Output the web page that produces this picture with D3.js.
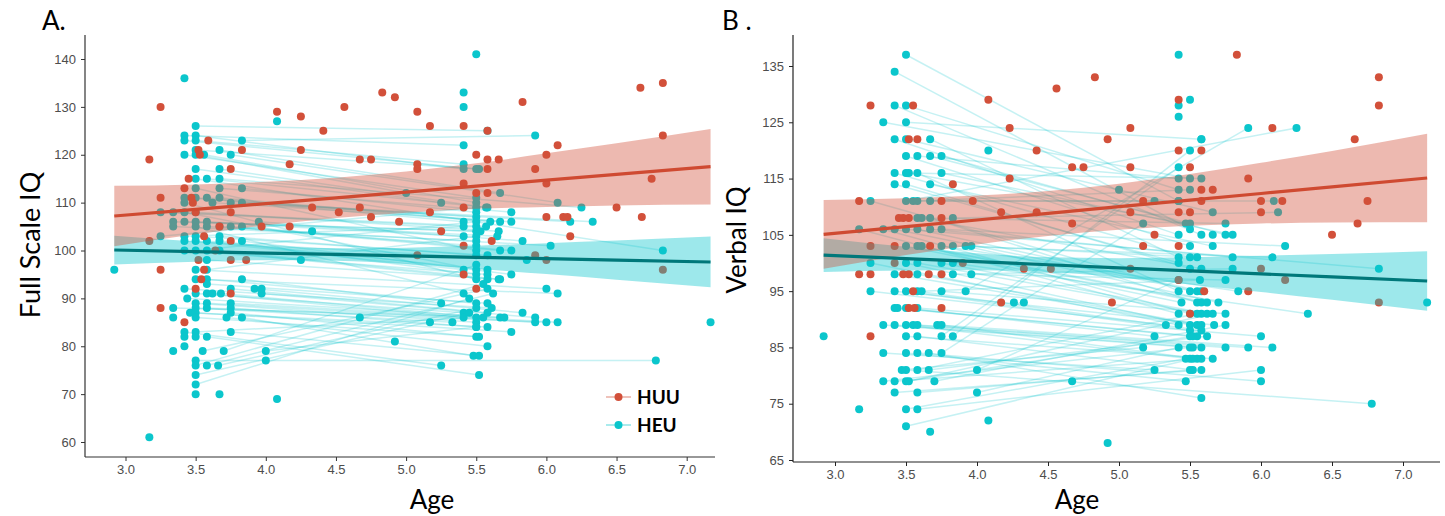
<!DOCTYPE html>
<html><head><meta charset="utf-8">
<script src="https://cdn.jsdelivr.net/npm/d3@7"></script>
<style>body{margin:0;background:#fff}svg{display:block}</style>
</head><body><svg id="c" width="1445" height="516"></svg>
<script>
const xTicks=[3,3.5,4,4.5,5,5.5,6,6.5,7];
const fsiqTicks=[60,70,80,90,100,110,120,130,140];
const viqTicks=[65,75,85,95,105,115,125,135];
const groups=["HUU","HEU"];
const fitAge=[2.92,3.5,4,4.5,5,5.5,6,6.5,7.17];
// Full scale IQ fits
const fsiqHUUfit=[107.2,108.6,109.8,111.0,112.2,113.45,114.7,115.9,117.5];
const fsiqHUUlo=[100.9,103.4,105.25,106.8,107.9,108.7,109.1,109.4,109.6];
const fsiqHUUhi=[113.5,113.8,114.35,115.2,116.5,118.2,120.3,122.4,125.4];
const fsiqHEUfit=[100.1,99.76,99.46,99.17,98.88,98.58,98.29,97.99,97.6];
const fsiqHEUlo=[97.1,97.66,97.96,97.86,97.17,96.17,95.07,93.91,92.3];
const fsiqHEUhi=[103.1,101.86,100.96,100.48,100.59,100.99,101.51,102.07,102.9];
// Verbal IQ fits
const viqHUUfit=[105.1,106.46,107.64,108.82,110.0,111.17,112.35,113.52,115.1];
const viqHUUlo=[99.0,101.4,103.3,104.8,105.9,106.6,107.0,107.2,107.25];
const viqHUUhi=[111.2,111.5,112.0,112.8,114.1,115.8,117.8,119.9,122.95];
const viqHEUfit=[101.4,100.77,100.23,99.69,99.15,98.61,98.07,97.53,96.8];
const viqHEUlo=[98.4,98.67,98.73,98.38,97.44,96.2,94.85,93.45,91.5];
const viqHEUhi=[104.4,102.87,101.73,101.0,100.86,101.02,101.29,101.61,102.1];

// HUU points [age, FSIQ]
const fsiqHUU=[[3.25,130],[4.08,129],[3.59,123],[3.52,121],[3.53,120],[3.83,121],[3.17,119],[3.75,117],[3.45,115],[3.42,113],[3.25,111],[3.47,111],[3.48,110],[3.50,108],[3.75,108],[3.67,105],[3.97,105],[3.56,103],[3.75,102],[3.17,102],[3.64,100],[3.52,98],[3.75,98],[3.86,98],[3.25,96],[3.56,96],[3.54,94],[3.50,92],[3.75,91],[3.25,88],[3.42,85],
[4.83,133],[4.92,132],[4.56,130],[4.25,128],[5.08,129],[4.41,125],[5.17,126],[5.41,126],[5.58,125],[4.25,121],[4.17,118],[4.67,119],[4.75,119],[5.08,118],[5.08,117],[5.50,120],[5.58,119],[5.66,119],[5.58,117],[5.41,114],[5.50,112],[5.58,112],[4.33,109],[4.52,108],[4.67,109],[4.75,107],[5.17,108],[4.95,106],[5.41,109],[4.17,105],[5.25,104],[5.61,102],[5.41,101],[5.08,99],[5.41,95],[5.50,92],
[5.83,131],[6.67,134],[6.83,135],[6.83,124],[6.08,122],[6.00,120],[5.92,117],[6.00,114],[6.75,115],[6.50,109],[6.00,107],[6.12,107],[6.15,107],[6.68,107],[6.17,103],[5.92,99],[6.00,98],[6.83,96]];
// HEU visits [age1, FSIQ1, age2, FSIQ2]
const fsiqHEUpairs=[[3.50,126,5.58,125],[3.42,124,5.41,122],[3.50,124,5.41,117],[3.42,123,5.50,117],[3.50,123,5.41,118],[3.83,123,5.92,124],[3.50,121,5.52,117],[3.67,121,5.67,112],[3.42,120,5.50,111],[3.50,120,5.00,112],[3.56,120,5.50,110],[3.75,120,6.08,110],[3.50,117,5.25,110],[3.67,117,5.57,109],[3.50,115,6.83,100],[3.58,115,5.58,109],[3.67,115,6.25,109],[3.50,113,5.50,100],[3.67,113,5.75,108],[3.83,113,5.50,108],[3.42,111,5.50,107],[3.50,111,5.41,106],[3.58,111,5.60,106],[3.67,111,5.67,106],[3.42,110,5.50,94],[3.62,110,5.75,106],[3.75,110,6.17,106],[3.83,110,6.33,106],[3.25,108,5.41,105],[3.34,108,5.57,105],[3.42,108,5.50,96],[3.50,108,5.66,104],[3.34,106,5.50,104],[3.42,106,5.53,104],[3.50,106,5.41,103],[3.58,106,5.65,103],[3.95,106,5.83,102],[3.34,105,5.50,102],[3.50,105,5.41,91],[3.58,105,6.03,101],[3.67,105,5.50,101],[3.75,105,5.67,100],[3.83,105,5.75,100],[3.25,103,5.50,109],[3.42,103,5.50,105],[3.50,103,5.58,99],[3.67,103,5.50,99],[3.42,102,5.86,98],[3.50,102,5.41,96],[3.58,102,5.58,96],[3.67,102,5.50,95],[3.83,102,5.75,95],[3.42,100,5.58,95],[3.50,100,5.50,106],[3.58,100,5.58,94],[3.67,100,5.66,94],[3.58,98,5.67,94],[3.50,96,6.00,92],[3.58,96,5.50,103],[3.50,94,6.08,91],[3.58,94,5.50,89],[3.83,94,5.25,89],[3.58,93,5.58,89],[3.42,92,5.61,88],[3.75,92,5.58,87],[3.92,92,5.83,87],[3.50,91,5.41,87],[3.58,91,5.41,86],[3.68,91,5.55,86],[3.97,91,5.92,86],[3.44,90,5.67,86],[3.34,88,5.70,86],[3.50,89,5.50,85],[3.50,88,5.33,85],[3.58,89,5.92,85],[3.58,88,6.00,85],[3.75,89,6.08,85],[3.75,88,5.50,84],[3.46,87,5.58,84],[3.50,87,5.75,83],[3.75,87,5.50,82],[3.50,86,5.52,82],[3.72,86,5.58,80],[3.83,86,5.48,78],[3.75,83,5.52,78],[3.42,83,5.25,76],[3.50,83,5.50,86],[3.58,82,5.52,74],[3.50,77,6.78,77],[3.50,76,5.55,93],[3.58,76,5.62,91],[3.66,76,5.50,88],[3.50,74,5.45,87],[3.50,72,5.45,90],[3.70,79,5.50,97],[3.55,79,5.58,92],[4.00,79,5.50,84]];
const fsiqHEUsingle=[[3.42,136],[4.08,127],[2.92,96],[3.62,91],[3.34,86],[3.42,82],[3.50,82],[3.42,80],[3.34,79],[4.00,77],[3.50,70],[3.67,70],[4.08,69],[3.17,61],[4.33,104],[4.25,98],[3.97,92],[5.50,141],[5.41,133],[5.41,130],[7.17,85],[5.17,85],[4.92,81],[4.67,86]];

// HUU points [age, VIQ]
const viqHUU=[[3.25,128],[3.55,128],[3.52,122],[3.58,122],[3.83,114],[3.17,111],[3.75,111],[3.97,111],[4.08,129],[3.45,108],[3.48,108],[3.52,108],[3.75,108],[4.17,109],[3.25,103],[3.42,103],[3.67,103],[4.23,124],[4.23,115],[3.42,100],[3.90,100],[3.17,98],[3.25,98],[3.48,98],[3.52,98],[3.66,98],[3.75,98],[3.55,95],[3.52,92],[3.56,92],[3.75,92],[4.17,93],[3.25,87],
[4.83,133],[4.56,131],[5.08,124],[4.92,122],[5.42,129],[4.42,120],[5.42,120],[5.58,120],[4.67,117],[4.75,117],[5.08,117],[5.50,117],[5.58,113],[5.66,113],[5.17,111],[5.58,111],[4.42,109],[5.08,109],[5.42,109],[5.50,109],[4.67,107],[5.25,105],[5.17,103],[5.42,103],[4.33,99],[4.52,99],[5.08,99],[5.42,97],[4.95,93],[5.60,95],[5.50,91],
[5.83,137],[6.83,133],[6.83,128],[6.08,124],[6.66,122],[5.91,115],[6.00,111],[6.15,111],[6.75,111],[6.00,109],[6.68,107],[6.50,105],[6.00,99],[6.17,97],[5.91,95],[6.83,93]];
// HEU visits [age1, VIQ1, age2, VIQ2]
const viqHEUpairs=[[3.50,137,5.42,111],[3.42,134,5.50,106],[3.42,128,5.58,105],[3.50,128,5.42,113],[3.34,125,5.50,115],[3.50,125,5.58,122],[3.42,122,5.42,105],[3.50,122,5.66,109],[3.67,122,5.42,101],[3.50,119,5.50,103],[3.58,119,5.42,115],[3.67,119,5.50,107],[3.75,119,5.75,105],[3.42,116,5.50,101],[3.50,116,5.58,115],[3.52,116,5.47,107],[3.58,116,5.42,95],[3.75,116,5.80,105],[3.42,114,5.42,100],[3.50,114,5.50,99],[3.67,114,5.66,103],[3.25,111,5.50,95],[3.50,111,6.25,124],[3.55,111,5.25,111],[3.58,111,5.50,113],[3.67,111,6.09,111],[3.58,108,5.58,99],[3.61,108,5.75,107],[3.67,108,5.55,93],[3.83,108,6.12,109],[3.17,106,5.42,91],[3.34,106,5.50,91],[3.42,106,5.55,95],[3.50,106,6.83,99],[3.58,106,5.58,95],[3.67,106,5.80,101],[3.75,106,6.17,103],[3.50,103,5.44,93],[3.58,103,5.58,93],[3.61,103,5.62,93],[3.75,103,5.84,95],[3.83,103,6.08,101],[3.92,103,5.70,93],[3.96,103,5.55,101],[3.25,100,5.42,89],[3.50,100,5.50,89],[3.58,100,5.58,91],[3.75,100,5.62,91],[3.83,100,6.33,91],[3.42,98,5.55,89],[3.58,98,5.58,89],[3.83,98,5.80,99],[3.96,98,5.75,97],[3.25,95,5.33,89],[3.42,95,5.67,89],[3.50,95,5.50,88],[3.58,95,5.58,88],[3.61,95,5.57,97],[3.75,95,5.75,91],[3.92,95,5.91,124],[3.42,92,5.50,87],[3.44,92,5.55,87],[3.50,92,5.25,87],[3.58,92,6.00,87],[3.34,89,5.52,85],[3.42,89,5.58,85],[3.50,89,5.50,83],[3.55,89,5.75,85],[3.58,89,5.91,85],[3.72,89,6.08,85],[3.75,89,5.55,83],[3.50,87,5.66,83],[3.58,87,5.52,81],[3.75,87,5.42,117],[3.83,87,5.50,120],[3.34,84,5.25,81],[3.50,84,5.47,79],[3.58,84,6.00,79],[3.66,84,5.58,76],[3.75,84,5.17,107],[3.50,81,6.78,75],[3.47,81,5.17,85],[3.58,81,5.55,91],[3.66,81,5.62,87],[4.00,81,5.42,97],[3.34,79,5.50,85],[3.42,79,5.58,83],[3.50,79,5.52,87],[3.52,79,5.66,91],[3.70,79,5.75,89],[3.42,77,5.58,81],[3.58,77,5.50,81],[4.00,77,5.42,85],[3.50,74,5.47,83],[3.58,74,6.00,81],[3.50,71,5.52,83]];
const viqHEUsingle=[[2.92,87],[3.17,74],[3.67,70],[4.08,120],[4.08,72],[4.26,93],[4.33,93],[4.67,79],[4.92,68],[5.00,113],[7.17,93],[5.42,137],[5.50,129],[5.42,128],[5.42,126],[5.66,105],[5.58,122],[5.42,111]];

const C={HUU:"#D2503A",HEU:"#0BC6CC",HUUfit:"#CF4A31",HEUfit:"#00787A"};
const svg=d3.select("#c");
const tickFont="'Liberation Sans',Arial,sans-serif";
const titleFont="Lato,'Open Sans',sans-serif";

function panel(p){
  const x=d3.scaleLinear().domain([3,7]).range(p.xr);
  const y=d3.scaleLinear().domain(p.yd).range(p.yr);
  const g=svg.append("g");
  // pair lines
  g.append("g").selectAll("line").data(p.pairs).join("line")
    .attr("x1",d=>x(d[0])).attr("y1",d=>y(d[1])).attr("x2",d=>x(d[2])).attr("y2",d=>y(d[3]))
    .attr("stroke",C.HEU).attr("stroke-opacity",0.24).attr("stroke-width",1.5);
  const heu=[...p.pairs.map(d=>[d[0],d[1]]),...p.pairs.map(d=>[d[2],d[3]]),...p.single];
  g.append("g").selectAll("circle").data(heu).join("circle")
    .attr("cx",d=>x(d[0])).attr("cy",d=>y(d[1])).attr("r",4).attr("fill",C.HEU);
  g.append("g").selectAll("circle").data(p.huu).join("circle")
    .attr("cx",d=>x(d[0])).attr("cy",d=>y(d[1])).attr("r",4).attr("fill",C.HUU);
  const area=(lo,hi)=>d3.area().x((d,i)=>x(fitAge[i])).y0((d,i)=>y(lo[i])).y1((d,i)=>y(hi[i])).curve(d3.curveMonotoneX)(fitAge);
  const line=(f)=>d3.line().x((d,i)=>x(fitAge[i])).y((d,i)=>y(f[i]))(fitAge);
  g.append("path").attr("d",area(p.heuLo,p.heuHi)).attr("fill",C.HEU).attr("fill-opacity",0.4);
  g.append("path").attr("d",area(p.huuLo,p.huuHi)).attr("fill",C.HUU).attr("fill-opacity",0.4);
  g.append("path").attr("d",line(p.heuFit)).attr("fill","none").attr("stroke",C.HEUfit).attr("stroke-width",3.2);
  g.append("path").attr("d",line(p.huuFit)).attr("fill","none").attr("stroke",C.HUUfit).attr("stroke-width",3.2);
  // axes
  const ya=g.append("g").attr("transform",`translate(${p.ax},0)`)
    .call(d3.axisLeft(y).tickValues(p.yTicks).tickSize(4).tickPadding(5));
  const xa=g.append("g").attr("transform",`translate(0,${p.ay})`)
    .call(d3.axisBottom(x).tickValues(xTicks).tickFormat(d3.format(".1f")).tickSize(4).tickPadding(4));
  [ya,xa].forEach(a=>{a.select(".domain").remove();
    a.selectAll("line").attr("stroke",p.axColor);
    a.selectAll("text").attr("fill","#4D4D4D").style("font-family",tickFont).style("font-size","13px");});
  g.append("line").attr("x1",p.ax).attr("x2",p.ax).attr("y1",p.top).attr("y2",p.ay).attr("stroke",p.axColor).attr("stroke-width",1.2);
  g.append("line").attr("x1",p.ax).attr("x2",p.right).attr("y1",p.ay).attr("y2",p.ay).attr("stroke",p.axColor).attr("stroke-width",1.2);
  // titles
  g.append("text").attr("x",p.letterX).attr("y",30).text(p.letter).style("font-family",titleFont).style("font-size","26px").attr("fill","#000");
  g.append("text").attr("transform",`translate(${p.ytX},${p.ytY}) rotate(-90)`).attr("text-anchor","middle")
    .text(p.yTitle).style("font-family",titleFont).style("font-size",p.ytSize).attr("fill","#000");
  g.append("text").attr("x",p.xtX).attr("y",509).attr("text-anchor","middle")
    .text("Age").style("font-family",titleFont).style("font-size","26px").attr("fill","#000");
  return {x,y,g};
}

panel({xr:[125.5,686.7],yd:[60,140],yr:[442,59],ax:85,ay:457,top:35,right:715,axColor:"#333",
  pairs:fsiqHEUpairs,single:fsiqHEUsingle,huu:fsiqHUU,yTicks:fsiqTicks,
  heuFit:fsiqHEUfit,heuLo:fsiqHEUlo,heuHi:fsiqHEUhi,huuFit:fsiqHUUfit,huuLo:fsiqHUUlo,huuHi:fsiqHUUhi,
  letter:"A.",letterX:42,yTitle:"Full Scale IQ",ytX:40,ytY:245,ytSize:"27px",xtX:432});
panel({xr:[835,1403],yd:[65,135],yr:[460,66],ax:793,ay:462,top:35,right:1440,axColor:"#222",
  pairs:viqHEUpairs,single:viqHEUsingle,huu:viqHUU,yTicks:viqTicks,
  heuFit:viqHEUfit,heuLo:viqHEUlo,heuHi:viqHEUhi,huuFit:viqHUUfit,huuLo:viqHUUlo,huuHi:viqHUUhi,
  letter:"B .",letterX:722,yTitle:"Verbal IQ",ytX:746,ytY:240,ytSize:"26px",xtX:1077});

// legend
const lg=svg.append("g");
groups.forEach((k,i)=>{
  const yy=397+i*28;
  lg.append("line").attr("x1",606).attr("x2",631).attr("y1",yy).attr("y2",yy).attr("stroke",C[k]).attr("stroke-opacity",0.35).attr("stroke-width",2);
  lg.append("circle").attr("cx",618.5).attr("cy",yy).attr("r",4).attr("fill",C[k]);
  lg.append("text").attr("x",637).attr("y",yy+7).text(k).style("font-family",titleFont).style("font-weight","bold").style("font-size","19px").attr("fill","#000");
});
</script></body></html>
